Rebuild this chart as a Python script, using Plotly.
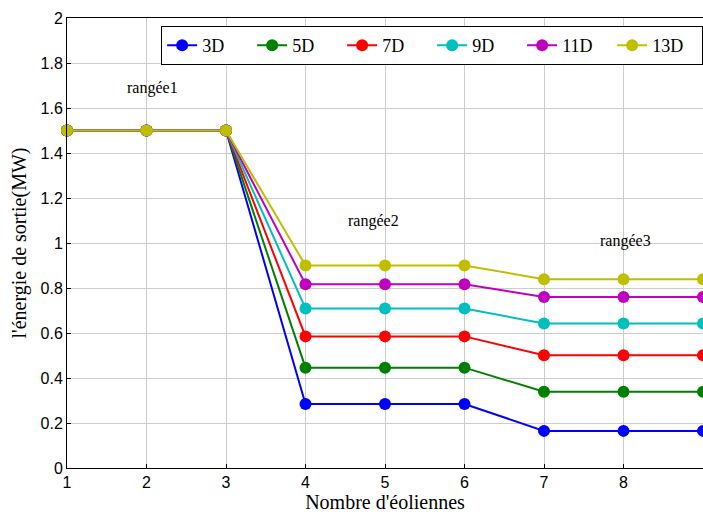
import plotly.graph_objects as go

x_vals = [1, 2, 3, 4, 5, 6, 7, 8, 9]
series_names = ["3D", "5D", "7D", "9D", "11D", "13D"]
y_3D = [1.5, 1.5, 1.5, 0.284, 0.284, 0.284, 0.165, 0.165, 0.165]
y_5D = [1.5, 1.5, 1.5, 0.446, 0.446, 0.446, 0.339, 0.339, 0.339]
y_7D = [1.5, 1.5, 1.5, 0.585, 0.585, 0.585, 0.501, 0.501, 0.501]
y_9D = [1.5, 1.5, 1.5, 0.709, 0.709, 0.709, 0.642, 0.642, 0.642]
y_11D = [1.5, 1.5, 1.5, 0.817, 0.817, 0.817, 0.76, 0.76, 0.76]
y_13D = [1.5, 1.5, 1.5, 0.9, 0.9, 0.9, 0.839, 0.839, 0.839]
series_values = [y_3D, y_5D, y_7D, y_9D, y_11D, y_13D]
colors = ["#0000ff", "#008000", "#ff0000", "#00bfbf", "#bf00bf", "#bfbf00"]

annot_text = ["rangée1", "rangée2", "rangée3"]
annot_x = [2.08, 4.86, 8.02]
annot_y = [1.69, 1.10, 1.01]

fig = go.Figure()
for name, ys, c in zip(series_names, series_values, colors):
    fig.add_trace(go.Scatter(
        x=x_vals, y=ys, name=name, mode="lines+markers",
        line=dict(color=c, width=2),
        marker=dict(color=c, size=12),
        cliponaxis=False,
    ))

for t, ax_, ay_ in zip(annot_text, annot_x, annot_y):
    fig.add_annotation(x=ax_, y=ay_, text=t, showarrow=False,
                       font=dict(family="Liberation Serif", size=16, color="black"))

fig.update_layout(
    width=703, height=514,
    margin=dict(l=67, r=0, t=18, b=46, autoexpand=False),
    plot_bgcolor="white", paper_bgcolor="white",
    showlegend=True,
    legend=dict(
        orientation="h", x=0.148, y=0.982, xanchor="left", yanchor="top",
        bgcolor="white", bordercolor="black", borderwidth=1,
        font=dict(family="Liberation Serif", size=18, color="black"),
        entrywidth=45, entrywidthmode="pixels",
    ),
    xaxis=dict(
        range=[1, 9], tickvals=x_vals, showgrid=True, gridcolor="#cccccc",
        showline=True, linecolor="black", linewidth=1, mirror=True,
        ticks="inside", ticklen=4, tickcolor="black", automargin=False,
        tickfont=dict(family="Liberation Sans", size=16, color="black"),
        title=dict(text="Nombre d'éoliennes", standoff=2,
                   font=dict(family="Liberation Serif", size=20, color="black")),
        zeroline=False,
    ),
    yaxis=dict(
        range=[0, 2], dtick=0.2, showgrid=True, gridcolor="#cccccc",
        showline=True, linecolor="black", linewidth=1, mirror=True,
        ticks="inside", ticklen=4, tickcolor="black", automargin=False,
        tickfont=dict(family="Liberation Sans", size=16, color="black"),
        title=dict(text="l'énergie de sortie(MW)", standoff=8,
                   font=dict(family="Liberation Serif", size=20, color="black")),
        zeroline=False,
    ),
)

fig.write_html(
    "out.html",
    config={"displayModeBar": False},
    post_script="document.body.style.margin='0';document.body.style.overflow='hidden';",
)
